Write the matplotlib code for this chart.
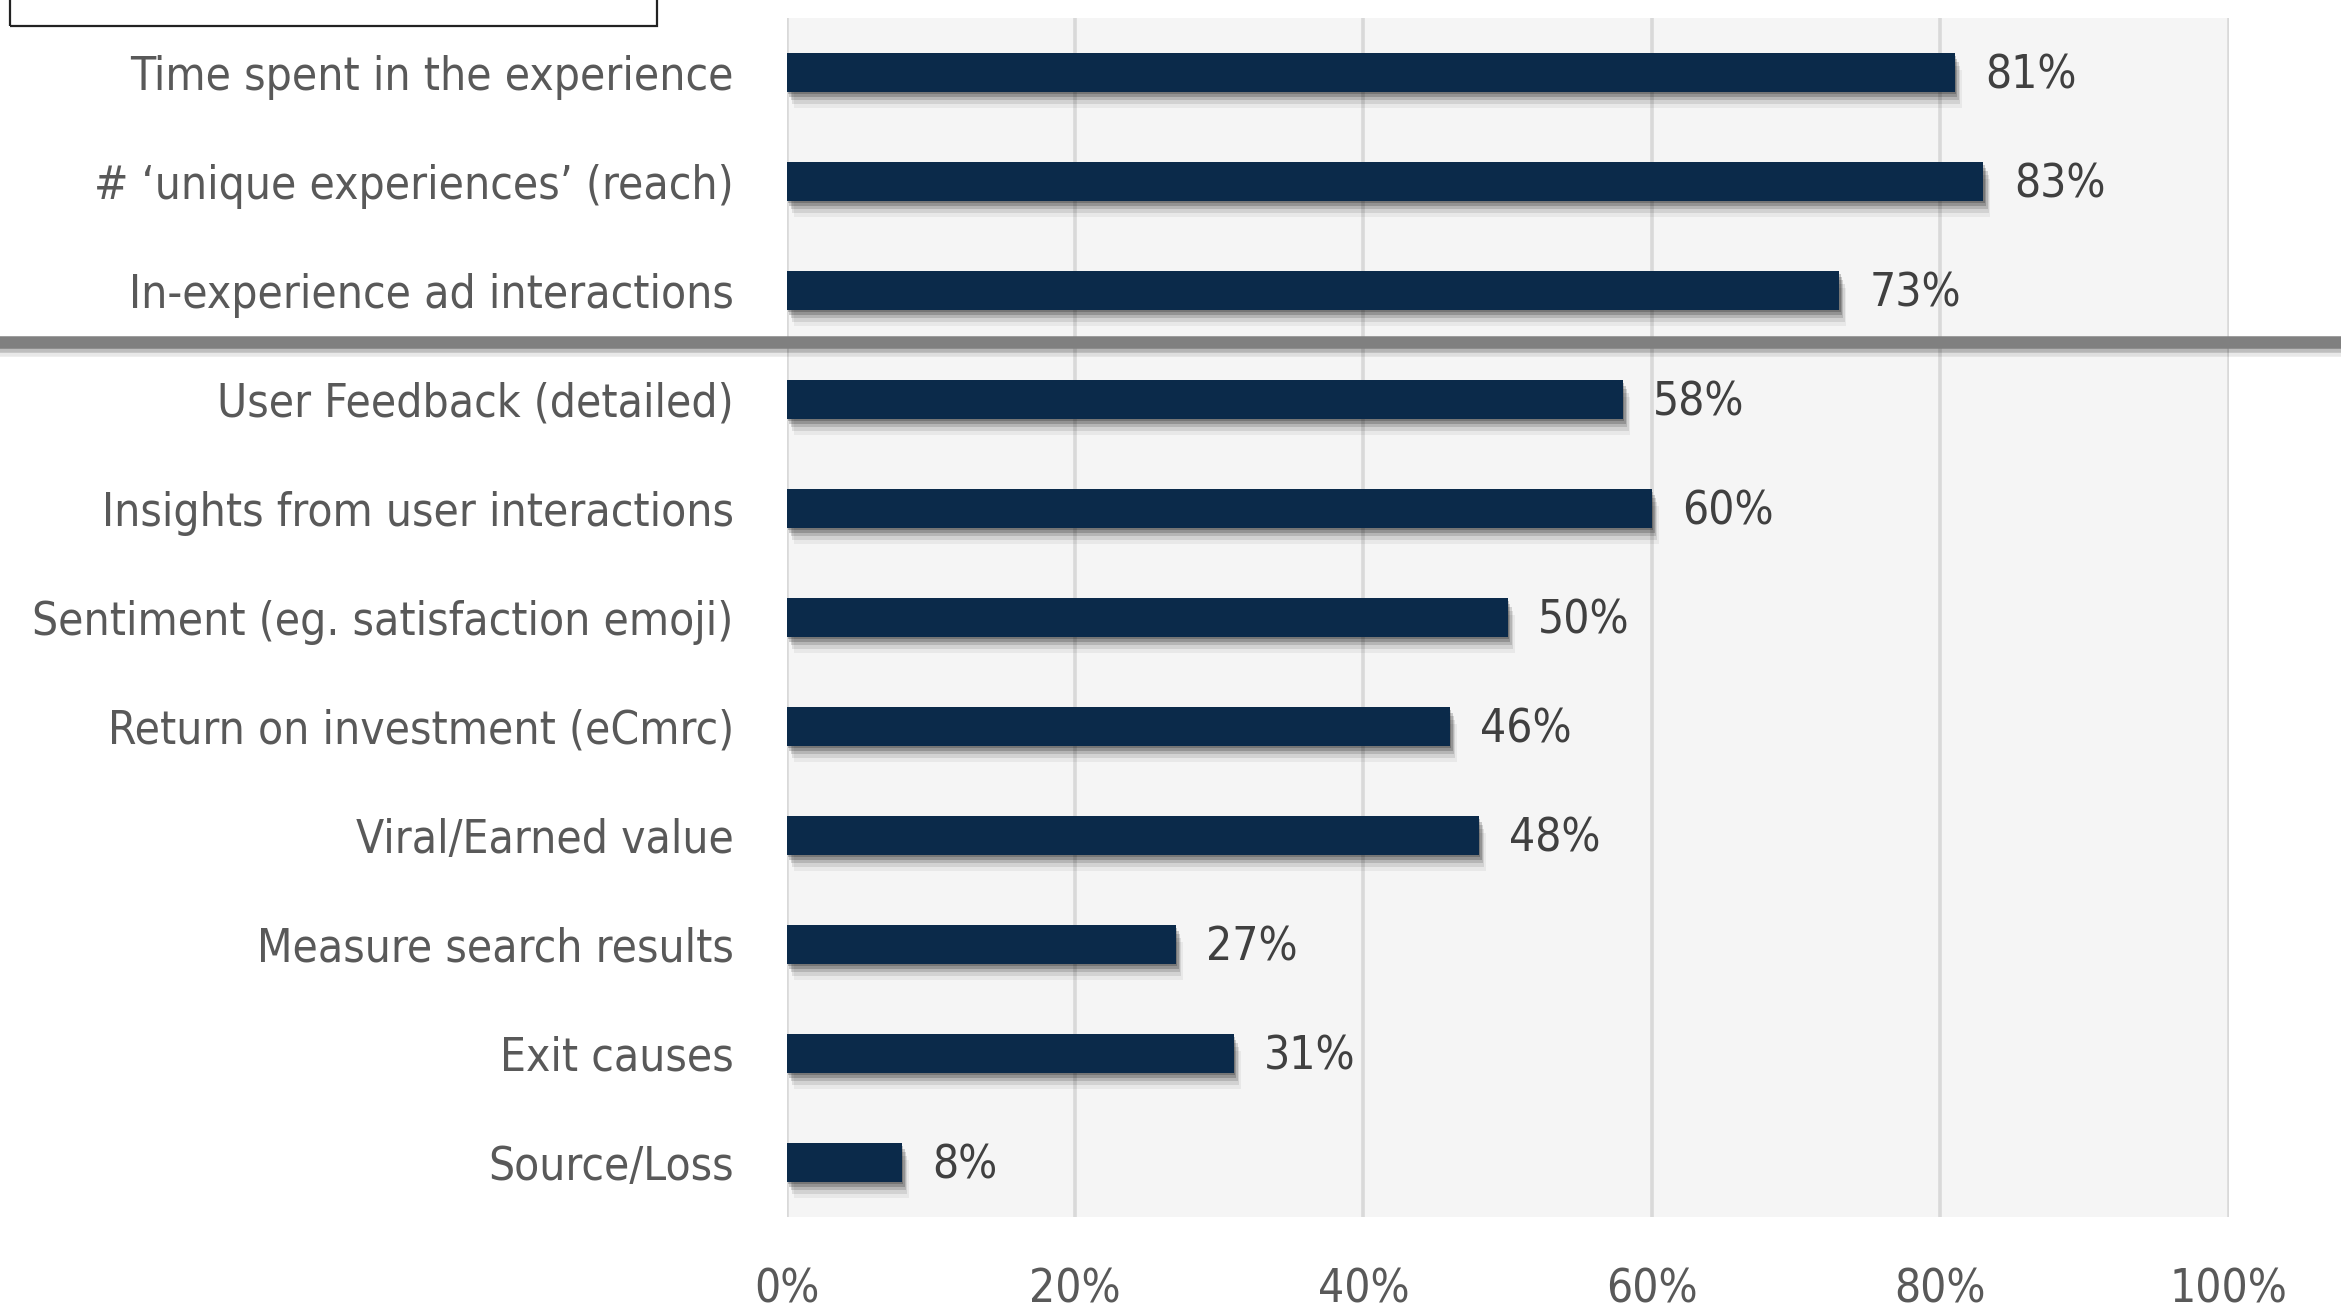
import matplotlib
matplotlib.use('Agg')
import matplotlib.pyplot as plt
import matplotlib.patheffects as pe
from matplotlib.patches import Rectangle

# Survey answers, top to bottom
categories = [
    'Time spent in the experience',
    '# \u2018unique experiences\u2019 (reach)',
    'In-experience ad interactions',
    'User Feedback (detailed)',
    'Insights from user interactions',
    'Sentiment (eg. satisfaction emoji)',
    'Return on investment (eCmrc)',
    'Viral/Earned value',
    'Measure search results',
    'Exit causes',
    'Source/Loss',
]
values = [81, 83, 73, 58, 60, 50, 46, 48, 27, 31, 8]
xticks = [0, 20, 40, 60, 80, 100]
split_after = 3  # first group of rows sits above the divider

plt.rcParams['font.family'] = ['Liberation Sans Narrow', 'DejaVu Sans']
plt.rcParams['font.stretch'] = 'condensed'

bar_color = '#0b2a4a'
text_color = '#595959'

fig = plt.figure(figsize=(23.41, 13.11), dpi=100)
ax = fig.add_axes([0.336, 0.0717, 0.616, 0.9146])
ax.set_facecolor('#f5f5f5')

# soft drop shadow built from a few stacked offsets
shadow = [
    pe.SimplePatchShadow(offset=(1, -2), shadow_rgbFace='#000000', alpha=0.20),
    pe.SimplePatchShadow(offset=(2, -4), shadow_rgbFace='#000000', alpha=0.18),
    pe.SimplePatchShadow(offset=(3, -6), shadow_rgbFace='#000000', alpha=0.14),
    pe.SimplePatchShadow(offset=(4, -9), shadow_rgbFace='#000000', alpha=0.09),
    pe.SimplePatchShadow(offset=(5, -12), shadow_rgbFace='#000000', alpha=0.05),
    pe.Normal(),
]

y = list(range(len(categories)))
bars = ax.barh(y, values, height=0.35, color=bar_color, zorder=3)
for b in bars:
    b.set_path_effects(shadow)

for yi, v in zip(y, values):
    ax.text(v + 2.1, yi + 0.03, f'{v}%', va='center', ha='left',
            fontsize=33, color='#404040', zorder=4)

ax.set_xlim(0, 100)
ax.set_ylim(len(categories) - 0.5, -0.5)
ax.set_xticks(xticks)
ax.set_xticklabels([f'{t}%' for t in xticks])
ax.set_yticks(y)
ax.set_yticklabels(categories)
ax.tick_params(axis='y', length=0, pad=38, labelsize=33, labelcolor=text_color)
ax.tick_params(axis='x', length=0, pad=36, labelsize=33, labelcolor=text_color)
ax.grid(axis='x', color='#d9d9d9', linewidth=2.6, zorder=1)
ax.grid(axis='y', visible=False)
ax.set_axisbelow(True)
for s in ax.spines.values():
    s.set_visible(False)

# divider between the two groups, running the full width of the figure
div_y = split_after - 0.53
line = ax.axhline(div_y, xmin=-1, xmax=2, color='#808080', linewidth=9,
                  zorder=5, clip_on=False)
line.set_path_effects([
    pe.SimpleLineShadow(offset=(1, -3), shadow_color='#000000', alpha=0.18),
    pe.SimpleLineShadow(offset=(2, -6), shadow_color='#000000', alpha=0.09),
    pe.Normal(),
])

# legend frame at the top left, cut by the upper edge
fig.patches.append(Rectangle((10 / 2341, 1 - 26 / 1311), 647 / 2341, 0.2,
                             transform=fig.transFigure, fill=False,
                             edgecolor='#222222', linewidth=1.6))

fig.savefig('out.png', dpi=100, facecolor='white')
